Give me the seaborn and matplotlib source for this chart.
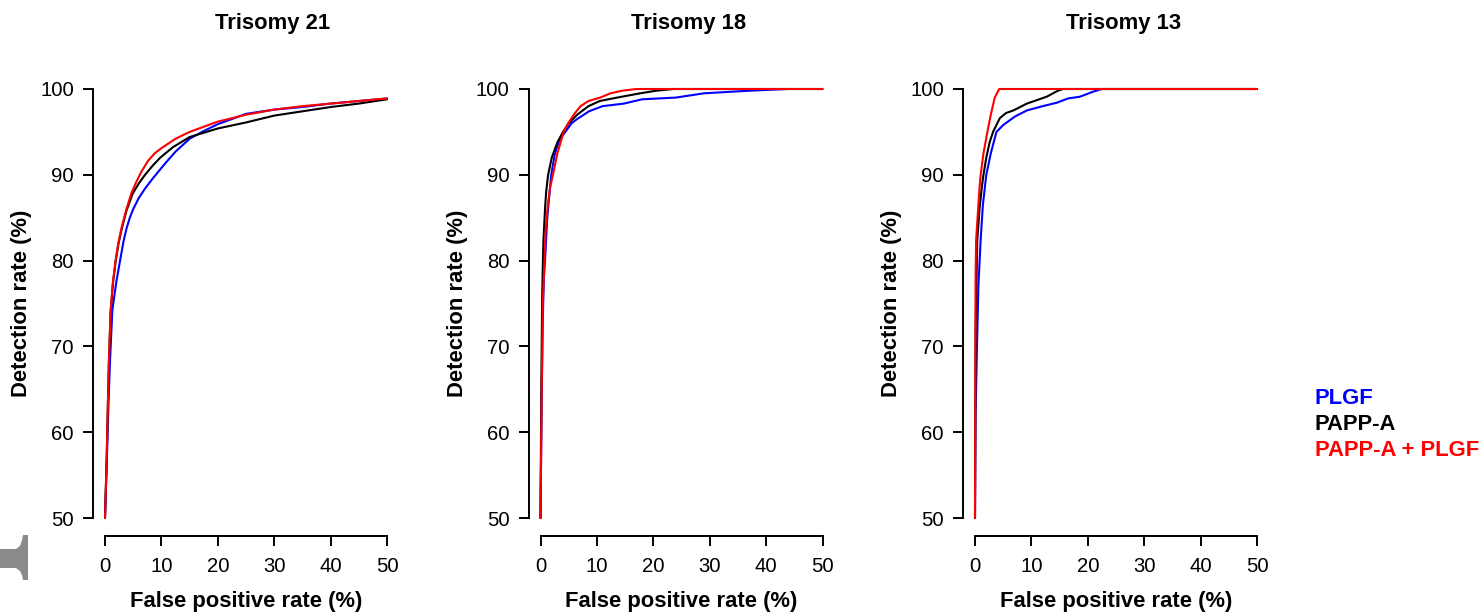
import numpy as np
import pandas as pd
import matplotlib
matplotlib.use("Agg")
import matplotlib.pyplot as plt
from matplotlib.patches import Polygon
import seaborn as sns

# ---------------- data ----------------
panel_titles = ["Trisomy 21", "Trisomy 18", "Trisomy 13"]
series_names = ["PLGF", "PAPP-A", "PAPP-A + PLGF"]
series_colors = ["#0000FF", "#000000", "#FF0000"]
x_ticks = [0, 10, 20, 30, 40, 50]
y_ticks = [50, 60, 70, 80, 90, 100]

# Trisomy 21
t21_plgf_fpr = [0, 0.3, 0.6, 0.9, 1.3, 2.0, 2.7, 3.3, 3.8, 4.4, 5.0, 6.0, 7.1, 8.5, 10.0, 10.9, 12.5, 15, 17.5, 20, 25, 30, 35, 40, 45, 50]
t21_plgf_dr = [50, 56, 63, 68.5, 74.2, 77.5, 80.1, 82.3, 83.7, 85.0, 86.0, 87.3, 88.4, 89.6, 90.8, 91.5, 92.7, 94.2, 95.1, 95.9, 97.1, 97.6, 97.9, 98.3, 98.6, 98.9]
t21_pappa_fpr = [0, 0.3, 0.5, 0.7, 1.0, 1.4, 1.9, 2.4, 3.0, 3.8, 4.9, 6.0, 7.1, 8.5, 9.8, 12, 15, 20, 25, 30, 35, 40, 45, 50]
t21_pappa_dr = [50, 57, 63, 68.4, 74.0, 77.3, 80.0, 82.0, 83.8, 85.8, 87.8, 89.0, 90.0, 91.1, 92.0, 93.2, 94.4, 95.4, 96.1, 96.9, 97.4, 97.9, 98.3, 98.8]
t21_both_fpr = [0, 0.3, 0.5, 0.7, 1.0, 1.4, 1.9, 2.4, 3.0, 3.8, 4.7, 5.5, 6.4, 7.6, 8.8, 10, 12.5, 15, 20, 25, 30, 35, 40, 45, 50]
t21_both_dr = [50, 57, 63, 68.4, 74.2, 77.5, 80.1, 82.2, 84.0, 86.0, 87.9, 89.1, 90.3, 91.6, 92.5, 93.1, 94.2, 95.0, 96.2, 97.0, 97.6, 98.0, 98.3, 98.6, 98.9]

# Trisomy 18
t18_plgf_fpr = [0, 0.2, 0.4, 0.6, 0.8, 1.2, 1.9, 2.5, 3.3, 4.4, 5.5, 6.5, 8.6, 11, 14.8, 18, 24, 29, 37, 43.8]
t18_plgf_dr = [50, 63, 73, 78, 80, 85, 90, 92.3, 94, 95, 96, 96.5, 97.4, 98.0, 98.3, 98.8, 99.0, 99.5, 99.8, 100]
t18_pappa_fpr = [0, 0.15, 0.3, 0.5, 0.8, 1.0, 1.35, 2.0, 3.0, 4.0, 5.0, 6.5, 8.5, 10.5, 13.6, 17.7, 20.5, 23.6, 50]
t18_pappa_dr = [50, 66, 76, 82, 86, 88, 90, 92, 93.8, 95, 96.0, 97.0, 98.0, 98.6, 99.0, 99.5, 99.8, 100, 100]
t18_both_fpr = [0, 0.2, 0.4, 0.7, 0.9, 1.3, 1.7, 2.2, 3.0, 4.1, 5.0, 6.0, 7.1, 8.5, 10.6, 12.4, 14.5, 17, 50]
t18_both_dr = [50, 64, 75, 80, 83.5, 86.5, 88.5, 90, 92.5, 95, 96.1, 97.1, 98.0, 98.6, 99.0, 99.5, 99.8, 100, 100]

# Trisomy 13
t13_plgf_fpr = [0, 0.1, 0.35, 0.6, 1.0, 1.4, 2.0, 2.8, 3.8, 5.0, 7.1, 9.2, 12, 14.5, 16.5, 18.6, 21, 22.5, 50]
t13_plgf_dr = [50, 62, 70, 77, 82.4, 86.5, 90, 92.5, 95, 95.8, 96.8, 97.5, 98.0, 98.4, 98.9, 99.1, 99.7, 100, 100]
t13_pappa_fpr = [0, 0.1, 0.4, 0.8, 1.2, 1.5, 2.0, 2.6, 3.2, 4.4, 5.5, 6.8, 9.2, 12.7, 14.7, 15.6, 50]
t13_pappa_dr = [50, 72, 82.4, 86, 88.5, 90, 92, 93.8, 95, 96.6, 97.2, 97.5, 98.3, 99.1, 99.8, 100, 100]
t13_both_fpr = [0, 0.1, 0.2, 0.5, 0.8, 1.0, 1.5, 2.2, 2.8, 3.5, 4.3, 50]
t13_both_dr = [50, 78, 82.4, 85.5, 88.5, 90, 92.5, 95, 97, 99, 100, 100]

panel_data = [
    [(t21_plgf_fpr, t21_plgf_dr), (t21_pappa_fpr, t21_pappa_dr), (t21_both_fpr, t21_both_dr)],
    [(t18_plgf_fpr, t18_plgf_dr), (t18_pappa_fpr, t18_pappa_dr), (t18_both_fpr, t18_both_dr)],
    [(t13_plgf_fpr, t13_plgf_dr), (t13_pappa_fpr, t13_pappa_dr), (t13_both_fpr, t13_both_dr)],
]

# ---------------- styling ----------------
sns.set_style("ticks")
plt.rcParams["font.family"] = ["Liberation Sans", "DejaVu Sans"]
plt.rcParams["text.color"] = "black"
plt.rcParams["axes.labelcolor"] = "black"
plt.rcParams["xtick.color"] = "black"
plt.rcParams["ytick.color"] = "black"

W, H = 1483, 615
fig = plt.figure(figsize=(W / 100, H / 100), dpi=100)

px_per_x = 282 / 50.0
px_per_y = (518 - 89) / 50.0
panel_x0 = [105, 540.5, 975]
title_x = [273, 689, 1124]
ylabel_x = [22, 457, 892]
BOLD_SIZE = 15.8
TICK_SIZE = 14.6

def fx(px):
    return px / W

def fy(py):
    return 1 - py / H

for i in range(3):
    x0 = panel_x0[i]
    left_px = x0 - 12
    right_px = x0 + 282 + 6
    top_px, bot_px = 84, 536
    ax = fig.add_axes([fx(left_px), fy(bot_px), (right_px - left_px) / W, (bot_px - top_px) / H])
    ax.set_xlim(-12 / px_per_x, 50 + 6 / px_per_x)
    ax.set_ylim(50 - 18 / px_per_y, 100 + 5 / px_per_y)

    frames = []
    for name, (xs, ys) in zip(series_names, panel_data[i]):
        frames.append(pd.DataFrame({"fpr": xs, "dr": ys, "series": name}))
    df = pd.concat(frames, ignore_index=True)
    sns.lineplot(data=df, x="fpr", y="dr", hue="series", hue_order=series_names,
                 palette=series_colors, sort=False, estimator=None, units="series",
                 legend=False, linewidth=1.5, ax=ax)

    for s in ["top", "right"]:
        ax.spines[s].set_visible(False)
    ax.spines["left"].set_bounds(50, 100)
    ax.spines["bottom"].set_bounds(0, 50)
    for s in ["left", "bottom"]:
        ax.spines[s].set_linewidth(1.4)
        ax.spines[s].set_color("black")
    ax.set_xticks(x_ticks)
    ax.set_yticks(y_ticks)
    ax.tick_params(axis="both", direction="out", length=7.2, width=1.4, colors="black",
                   labelcolor="black", labelsize=TICK_SIZE)
    ax.tick_params(axis="x", pad=8)
    ax.tick_params(axis="y", pad=6.5)
    ax.set_xlabel("")
    ax.set_ylabel("")
    ax.patch.set_alpha(0)

    fig.text(fx(title_x[i]), fy(24), panel_titles[i], ha="center", va="center",
             fontsize=BOLD_SIZE, fontweight="bold", color="black")
    fig.text(fx(x0 + 141), fy(601), "False positive rate (%)", ha="center", va="center",
             fontsize=BOLD_SIZE, fontweight="bold", color="black")
    fig.text(fx(ylabel_x[i]), fy(303.5), "Detection rate (%)", ha="center", va="center",
             rotation=90, fontsize=BOLD_SIZE, fontweight="bold", color="black")

# legend as coloured text
legend_y = [398, 424, 450]
for name, col, yy in zip(series_names, series_colors, legend_y):
    fig.text(fx(1315), fy(yy), name, ha="left", va="center", color=col,
             fontsize=BOLD_SIZE, fontweight="bold")

# grey fragment at bottom-left edge
shape_px = [(0, 549), (16, 549), (20, 546), (22, 540), (23, 535), (28, 535), (28, 580),
            (23, 580), (22, 575), (20, 571), (16, 568), (0, 568)]
fig.patches.append(Polygon([(fx(a), fy(b)) for a, b in shape_px], closed=True,
                           transform=fig.transFigure, facecolor="#8a8a8a", edgecolor="none"))

fig.savefig("out.png", dpi=100)
